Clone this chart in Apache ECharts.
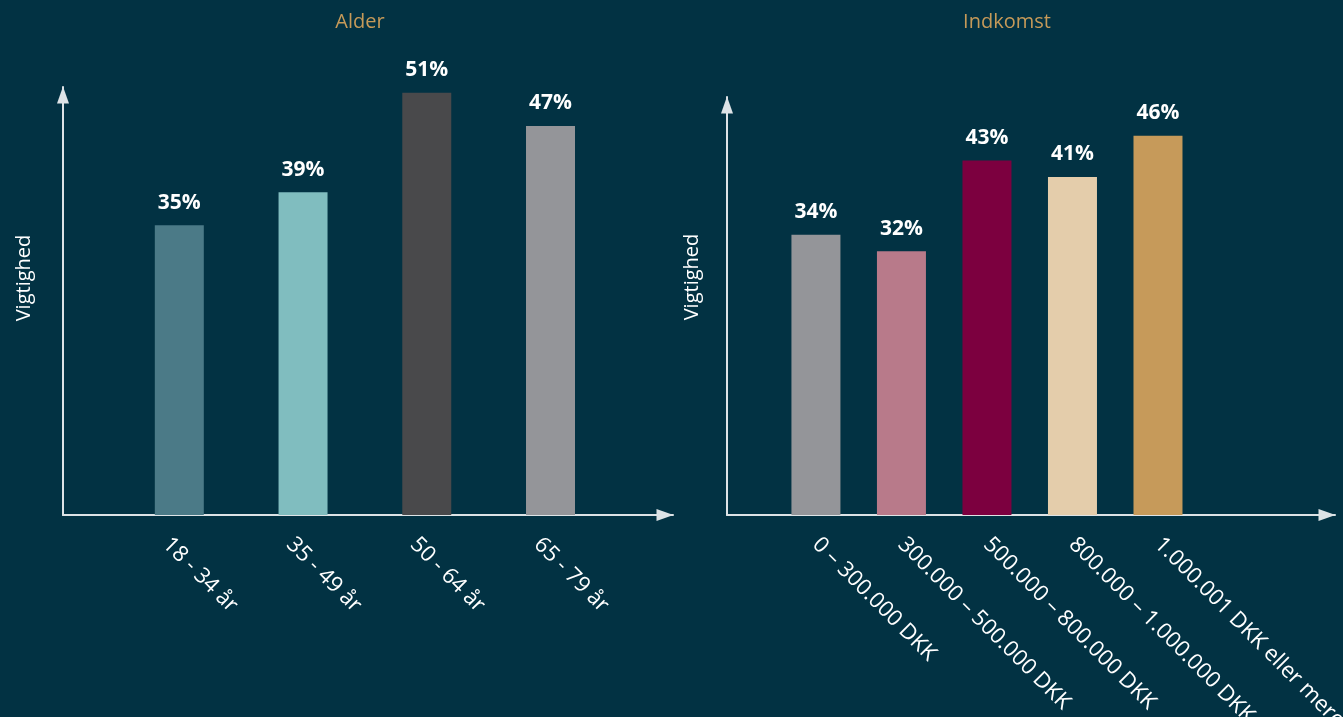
<!DOCTYPE html>
<html>
<head>
<meta charset="utf-8">
<title>Vigtighed efter alder og indkomst</title>
<script src="https://cdn.jsdelivr.net/npm/echarts@6/dist/echarts.min.js"></script>
<style>
  html, body { margin: 0; padding: 0; background: #023243; }
  #chart { width: 1343px; height: 717px; }
</style>
</head>
<body>
<div id="chart"></div>
<script>
// Panel titles
const titles = ['Alder', 'Indkomst'];
const yName = 'Vigtighed';

// Age groups
const ageCategories = ['18 - 34 år', '35 - 49 år', '50 - 64 år', '65 - 79 år'];
const ageValues = [35, 39, 51, 47];
const ageColors = ['#4b7a87', '#80bdbf', '#49494b', '#949599'];

// Income groups
const incomeCategories = [
  '0 – 300.000 DKK',
  '300.000 – 500.000 DKK',
  '500.000 – 800.000 DKK',
  '800.000 – 1.000.000 DKK',
  '1.000.001 DKK eller mere'
];
const incomeValues = [34, 32, 43, 41, 46];
const incomeColors = ['#949599', '#b87a8a', '#7c003f', '#e4cdab', '#c69a5a'];

const FONT = 'Open Sans';
const AXIS_COLOR = '#dde3e6';

// Category i sits at position i + 1 on a numeric x axis
const toPoints = (vals, colors) => vals.map((v, i) => ({
  value: [i + 1, v],
  itemStyle: { color: colors[i] }
}));
const positions = cats => cats.map((c, i) => i + 1);

function axisLine() {
  return {
    show: true,
    onZero: false,
    symbol: ['none', 'triangle'],
    symbolSize: [12, 17],
    symbolOffset: [0, -8],
    lineStyle: { color: AXIS_COLOR, width: 2 }
  };
}

function xAxis(gridIndex, cats, min, max, labelExtra) {
  return {
    gridIndex, type: 'value', min, max,
    axisLine: axisLine(),
    axisTick: { show: false },
    splitLine: { show: false },
    axisLabel: Object.assign({
      customValues: positions(cats),
      formatter: v => cats[Math.round(v) - 1] || '',
      rotate: -45,
      color: '#ffffff',
      fontFamily: FONT,
      fontSize: 22,
      margin: 26
    }, labelExtra)
  };
}

function yAxis(gridIndex, max, namePad, nameGap) {
  return {
    gridIndex, type: 'value', min: 0, max,
    axisLine: axisLine(),
    axisTick: { show: false },
    axisLabel: { show: false },
    splitLine: { show: false },
    name: yName,
    nameLocation: 'middle',
    nameGap,
    nameTextStyle: { color: '#ffffff', fontFamily: FONT, fontSize: 20, padding: [0, 0, 0, namePad] }
  };
}

function barSeries(idx, vals, colors) {
  return {
    type: 'bar',
    xAxisIndex: idx, yAxisIndex: idx,
    barWidth: 49,
    data: toPoints(vals, colors),
    label: {
      show: true,
      position: 'top',
      distance: 12,
      formatter: p => p.value[1] + '%',
      color: '#ffffff',
      fontFamily: FONT,
      fontWeight: 'bold',
      fontSize: 21
    }
  };
}

const chart = echarts.init(document.getElementById('chart'), null, { renderer: 'canvas' });
chart.setOption({
  backgroundColor: '#023243',
  animation: false,
  title: [
    { text: titles[0], left: 355, top: 7, textAlign: 'center',
      textStyle: { color: '#c69a59', fontFamily: FONT, fontSize: 20, fontWeight: 'normal' } },
    { text: titles[1], left: 1002, top: 7, textAlign: 'center',
      textStyle: { color: '#c69a59', fontFamily: FONT, fontSize: 20, fontWeight: 'normal' } }
  ],
  grid: [
    { left: 63, top: 87, width: 610, height: 428, outerBoundsMode: 'none', containLabel: false },
    { left: 727, top: 97, width: 608, height: 418, outerBoundsMode: 'none', containLabel: false }
  ],
  xAxis: [
    xAxis(0, ageCategories, 0.06, 4.99, { margin: 13, verticalAlign: 'top', lineHeight: 37 }),
    xAxis(1, incomeCategories, -0.04, 7.07, {})
  ],
  yAxis: [
    yAxis(0, 51.7, 46, 29),
    yAxis(1, 50.7, 58, 25)
  ],
  series: [
    barSeries(0, ageValues, ageColors),
    barSeries(1, incomeValues, incomeColors)
  ]
});
</script>
</body>
</html>
